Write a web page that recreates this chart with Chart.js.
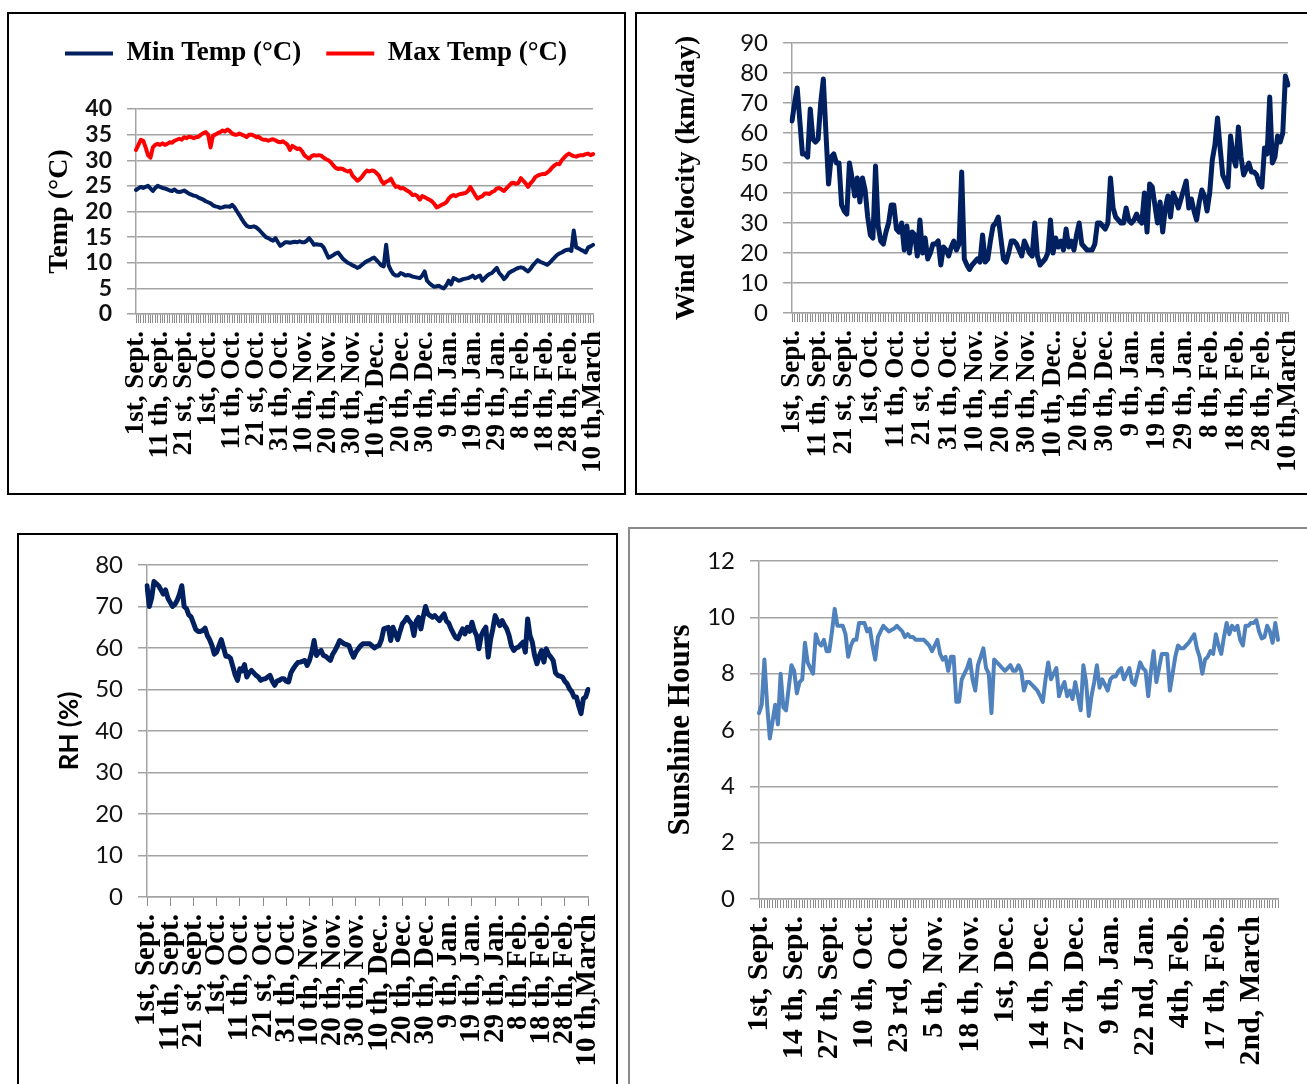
<!DOCTYPE html>
<html>
<head>
<meta charset="utf-8">
<script src="https://cdn.jsdelivr.net/npm/chart.js@4.4.1/dist/chart.umd.min.js"></script>
<style>
  body { margin: 0; background: #fff; width: 1307px; height: 1084px; overflow: hidden; position: relative; }
  .frame { position: absolute; box-sizing: border-box; }
  canvas { position: absolute; }
</style>
</head>
<body>
<div class="frame" style="left:7px;top:12px;width:619px;height:483px;border:2px solid #000"></div>
<div class="frame" style="left:635px;top:12px;width:690px;height:483px;border:2px solid #000"></div>
<div class="frame" style="left:17px;top:533px;width:601px;height:570px;border:2px solid #000"></div>
<div class="frame" style="left:628px;top:527px;width:700px;height:580px;border:2px solid #8a8a8a"></div>

<canvas id="tempChart" width="618" height="482" style="left:7px;top:12px"></canvas>
<canvas id="windChart" width="672" height="482" style="left:635px;top:12px"></canvas>
<canvas id="rhChart" width="601" height="551" style="left:17px;top:533px"></canvas>
<canvas id="sunChart" width="679" height="557" style="left:628px;top:527px"></canvas>

<script>
// one value per day, 1 Sept -> 10 March (sunshine runs to 12 March)
var tickNames = ["1st, Sept.", "11 th, Sept.", "21 st, Sept.", "1st, Oct.", "11 th, Oct.",
    "21 st, Oct.", "31 th, Oct.", "10 th, Nov.", "20 th, Nov.", "30 th, Nov.", "10 th, Dec..",
    "20 th, Dec.", "30 th, Dec.", "9 th, Jan.", "19 th, Jan.", "29 th, Jan.", "8 th, Feb.",
    "18 th, Feb.", "28 th, Feb.", "10 th,March"];
var sunTickNames = ["1st, Sept.", "14 th, Sept.", "27 th, Sept.", "10 th, Oct.", "23 rd, Oct.",
    "5 th, Nov.", "18 th, Nov.", "1st, Dec.", "14 th, Dec.", "27 th, Dec.", "9 th, Jan.",
    "22 nd, Jan.", "4th, Feb.", "17 th, Feb.", "2nd, March"];

var minTemp = [
    24.2, 24.5, 24.8, 24.6, 24.8, 25.0, 24.5, 24.0, 24.6, 25.0,
    24.8, 24.6, 24.5, 24.3, 24.1, 24.0, 24.3, 23.9, 23.8, 23.9,
    24.1, 23.8, 23.5, 23.3, 23.1, 23.0, 22.7, 22.5, 22.3, 22.0,
    21.8, 21.6, 21.2, 21.0, 20.9, 20.7, 20.8, 21.0, 21.0, 20.9,
    21.3, 20.8, 20.0, 19.3, 18.5, 17.8, 17.2, 17.0, 17.0, 17.1,
    16.9, 16.5, 16.0, 15.5, 15.0, 14.8, 14.5, 14.3, 14.8, 14.0,
    13.3, 13.6, 14.0, 14.0, 13.9, 14.0, 14.1, 14.0, 14.2, 14.0,
    14.0, 14.3, 14.8, 14.2, 13.5, 13.6, 13.5, 13.5, 13.0, 12.0,
    11.0, 11.2, 11.5, 11.8, 12.0, 11.4, 10.8, 10.4, 10.0, 9.8,
    9.5, 9.3, 9.0, 9.2, 9.6, 10.0, 10.3, 10.5, 10.8, 11.0,
    10.5, 10.0, 9.5, 9.3, 13.5, 9.5, 8.5, 7.8, 7.5, 7.5,
    8.0, 7.8, 7.5, 7.6, 7.5, 7.3, 7.2, 7.1, 7.0, 7.5,
    8.3, 6.5, 6.0, 5.6, 5.3, 5.4, 5.5, 5.2, 5.0, 5.6,
    6.5, 5.8, 7.0, 6.8, 6.5, 6.6, 6.8, 6.9, 7.0, 7.2,
    7.5, 7.0, 7.3, 7.5, 6.5, 7.0, 7.5, 7.8, 8.0, 8.5,
    9.0, 8.0, 7.5, 6.8, 7.3, 8.0, 8.3, 8.5, 8.8, 9.0,
    9.1, 9.0, 8.6, 8.3, 8.8, 9.5, 10.0, 10.5, 10.2, 10.0,
    9.8, 9.6, 10.0, 10.5, 11.0, 11.5, 11.8, 12.0, 12.3, 12.5,
    12.6, 12.3, 16.3, 13.0, 12.8, 12.5, 12.3, 12.0, 13.0, 13.2,
    13.5];

var maxTemp = [
    32.0, 33.0, 34.0, 33.8, 32.5, 31.0, 30.5, 32.5, 33.0, 33.2,
    33.0, 33.3, 33.0, 33.2, 33.5, 33.4, 33.8, 34.0, 34.2, 34.0,
    34.5, 34.3, 34.6, 34.5, 34.3, 34.5, 34.6, 35.0, 35.3, 35.5,
    35.0, 32.5, 34.8, 35.0, 35.3, 35.5, 35.8, 35.6, 36.0, 35.7,
    35.2, 35.0, 35.0, 35.2, 35.0, 34.8, 34.5, 35.0, 35.0, 34.8,
    34.5, 34.6, 34.2, 34.0, 34.0, 33.8, 34.0, 34.1, 33.9, 33.6,
    33.5, 33.7, 33.4, 33.0, 32.0, 32.8, 32.5, 32.2, 32.3, 31.8,
    31.0, 30.6, 30.3, 30.8, 31.0, 30.9, 31.0, 30.9, 30.5, 30.2,
    30.0, 29.6, 29.0, 28.5, 28.3, 28.4, 28.3, 28.0, 27.8, 28.0,
    27.0, 26.5, 26.0, 26.3, 26.8, 27.5, 28.0, 27.8, 28.0, 27.9,
    27.5, 27.0, 26.0, 25.4, 25.8, 26.0, 26.4, 25.5, 24.8, 24.9,
    24.5, 24.6, 24.3, 24.0, 23.7, 23.2, 23.3, 23.0, 22.3, 23.0,
    22.8, 22.5, 22.3, 22.0, 21.5, 20.8, 21.0, 21.3, 21.5, 21.8,
    22.5, 23.0, 23.2, 23.0, 23.3, 23.4, 23.5, 23.6, 24.0, 24.8,
    24.0, 23.2, 22.5, 22.8, 23.0, 23.5, 23.5, 23.4, 23.8, 24.0,
    24.5, 24.6, 24.3, 24.0, 24.5, 25.0, 25.5, 25.6, 25.4, 25.6,
    26.5, 26.0, 25.5, 24.8, 25.5, 26.0, 26.7, 27.0, 27.2, 27.3,
    27.3, 27.6, 28.0, 28.6, 29.0, 29.3, 29.2, 30.0, 30.5, 31.0,
    31.3, 31.0, 30.8, 30.7, 30.9, 31.0, 31.0, 31.2, 31.3, 31.0,
    31.2];

var windVel = [
    64, 70, 75, 64, 53, 53, 52, 68, 58, 57,
    58, 70, 78, 60, 43, 52, 53, 50, 50, 36,
    34, 33, 50, 45, 39, 45, 37, 45, 41, 32,
    26, 25, 49, 29, 24, 23, 27, 30, 36, 36,
    28, 27, 30, 21, 29, 20, 27, 26, 19, 31,
    20, 25, 18, 20, 23, 23, 24, 16, 22, 21,
    19, 22, 24, 21, 23, 47, 18, 16, 14.5, 16,
    17, 18, 17, 26, 17, 18, 24, 29, 30, 32,
    25, 18, 17, 20, 24, 24, 23, 21, 19, 24,
    22, 20, 19, 30, 19, 16, 17, 18, 20, 31,
    20, 25, 22, 24, 21, 28, 22, 24, 21, 26,
    30, 23, 22, 21, 21, 21, 23, 30, 30, 29,
    28, 30, 45, 35, 32, 31, 30, 30, 35, 31,
    30, 31, 33, 31, 30, 40, 27, 43, 42, 36,
    30, 37, 27, 35, 39, 32, 40, 38, 35, 38,
    41, 44, 35, 38, 34, 31, 37, 41, 39, 34,
    40, 51, 56, 65, 55, 46, 44, 42, 59, 52,
    49, 62, 52, 46, 48, 50, 47, 47, 46, 43,
    42, 55, 53, 72, 50, 52, 59, 57, 60, 79,
    76];

var relHum = [
    75, 70, 72, 76, 75.5, 75, 74, 73, 74, 72,
    71, 70, 70.5, 71.5, 73, 75, 70, 69.5, 68, 67.5,
    66, 64.5, 64, 64, 64.2, 64.8, 63, 62, 60.6, 58.5,
    59, 60.5, 62, 60, 58, 58, 57.5, 55.5, 53.5, 52.2,
    55, 54.5, 56, 53, 54, 54.6, 54, 53.4, 53, 52.2,
    52.5, 52.6, 53, 53.4, 52, 51, 52, 52.2, 52.6, 52.6,
    52, 51.8, 54, 55, 55.8, 56.5, 56.6, 56.8, 57, 55.8,
    57, 59, 61.8, 58.2, 59, 59.4, 58.2, 58, 57.5, 57,
    58.5, 59.4, 60.5, 61.8, 61.4, 61, 60.8, 60.6, 59, 57.8,
    59, 59.8, 60.5, 61, 61, 61, 61, 60.5, 60, 60.4,
    60.6, 62, 64.6, 64.8, 65, 61.8, 65, 63.5, 62, 64,
    65.8, 66.5, 67.4, 66.5, 65.8, 63, 66.5, 67.4, 64.6, 67.5,
    70, 68.2, 67.8, 67.4, 67.8, 67.2, 66.6, 67.5, 68.2, 66.5,
    66, 64.6, 63.5, 62.5, 62.2, 63.5, 64.6, 63.4, 65, 64,
    66.2, 64.2, 63, 59.8, 63, 64.2, 65, 57.8, 62, 64.6,
    67.8, 66.5, 65.4, 66.6, 65.5, 64.6, 63, 60.5, 59.4, 60,
    60.2, 60.8, 61.4, 59, 67, 63, 61.4, 58.2, 56.2, 58,
    59.4, 56.6, 59.8, 58.5, 57.8, 57, 54, 53.4, 53.2, 53,
    52, 51.4, 50.2, 49.5, 48.2, 48.2, 46, 44.2, 47.8, 48.2,
    50];

var sunHours = [
    6.6, 6.9, 8.5, 6.9, 5.7, 6.3, 6.9, 6.2, 8.0, 6.8,
    6.7, 7.5, 8.3, 8.1, 7.3, 7.7, 7.8, 9.1, 8.4, 8.2,
    8.0, 9.4, 9.1, 9.0, 9.2, 8.8, 8.8, 9.5, 10.3, 9.7,
    9.7, 9.7, 9.4, 8.6, 9.0, 9.2, 9.2, 9.8, 9.8, 9.8,
    9.5, 9.6, 9.0, 8.5, 9.3, 9.5, 9.7, 9.6, 9.5, 9.55,
    9.6, 9.7, 9.6, 9.5, 9.3, 9.4, 9.3, 9.3, 9.2, 9.2,
    9.2, 9.2, 9.1, 9.0, 8.8, 9.0, 9.2, 8.7, 8.5, 8.6,
    8.1, 8.6, 8.6, 7.0, 7.0, 7.8, 8.0, 8.2, 8.5, 7.8,
    7.4, 8.3, 8.6, 8.9, 8.2, 8.0, 6.6, 8.5, 8.4, 8.3,
    8.2, 8.1, 8.2, 8.3, 8.1, 8.1, 8.3, 8.1, 7.4, 7.7,
    7.7, 7.6, 7.5, 7.4, 7.2, 7.0, 7.8, 8.4, 7.8, 8.0,
    8.2, 7.2, 7.5, 7.7, 7.2, 7.4, 7.1, 7.7, 7.2, 6.7,
    8.3, 7.7, 6.5, 7.2, 7.7, 8.3, 7.5, 7.8, 7.6, 7.4,
    7.8, 7.9, 7.9, 8.1, 8.2, 7.8, 8.0, 8.2, 7.7, 7.6,
    8.0, 8.4, 8.2, 8.1, 7.2, 8.1, 8.8, 7.7, 8.2, 8.7,
    8.7, 8.7, 7.4, 8.0, 8.6, 9.0, 8.9, 8.9, 9.0, 9.1,
    9.25, 9.4, 8.9, 8.6, 8.0, 8.5, 8.6, 8.8, 8.7, 9.4,
    9.0, 8.7, 9.3, 9.8, 9.4, 9.7, 9.55, 9.7, 9.2, 9.0,
    9.7, 9.7, 9.8, 9.8, 9.9, 9.5, 9.25, 9.3, 9.7, 9.5,
    9.1, 9.8, 9.2];

var gridGray = "#a3a3a3";
var navy = "#002060";

// a label every `step` days, blank ticks in between
function makeLabels(names, step, count) {
    var labels = [];
    for (var i = 0; i < count; i++) {
        labels.push(i % step == 0 ? names[i / step] : "");
    }
    return labels;
}

function drawPanel(id, p) {
    var canvas = document.getElementById(id);
    var W = canvas.width, H = canvas.height;
    // stretch the legend box so it fills the gap down to the plot
    var legendGap = {
        id: 'legendGap',
        beforeInit: function (chart) {
            if (!chart.legend || !p.legendHeight) return;
            var fit = chart.legend.fit;
            chart.legend.fit = function () {
                fit.call(chart.legend);
                this.height = p.legendHeight;
            };
        }
    };
    new Chart(canvas, {
        type: 'line',
        data: { labels: p.labels, datasets: p.datasets },
        plugins: [legendGap],
        options: {
            responsive: false,
            animation: false,
            devicePixelRatio: 1,
            layout: { padding: { left: p.padLeft, top: p.padTop || 0, right: W - p.area.right, bottom: 0 } },
            elements: {
                point: { radius: 0 },
                line: { tension: 0, borderCapStyle: 'round', borderJoinStyle: 'round' }
            },
            plugins: {
                legend: p.legend || { display: false },
                tooltip: { enabled: false }
            },
            scales: {
                x: {
                    grid: { drawOnChartArea: false, color: p.xTickColor, tickLength: 9, lineWidth: 1 },
                    border: { color: gridGray, width: 1.5 },
                    ticks: {
                        autoSkip: false, minRotation: 90, maxRotation: 90, padding: 8, color: '#000',
                        font: { family: 'Liberation Serif', weight: 'bold', size: p.xFont }
                    },
                    afterFit: function (s) {
                        s.height = H - p.area.bottom;
                        s.paddingLeft = 0;
                        s.paddingRight = 0;
                    }
                },
                y: {
                    min: p.yMin, max: p.yMax,
                    ticks: { stepSize: p.yStep, autoSkip: false, padding: 15, color: '#111', font: p.yTickFont },
                    grid: { color: gridGray, lineWidth: 1.5, tickLength: 9 },
                    border: { color: gridGray, width: 1.5 },
                    title: { display: true, text: p.yTitle, color: '#000', font: p.yTitleFont, padding: { top: 4, bottom: 4 } },
                    afterFit: function (s) {
                        s.width = p.area.left - p.padLeft;
                        s.paddingTop = p.area.top;
                        s.paddingBottom = 0;
                    }
                }
            }
        }
    });
}

var serifTitle = { family: 'Liberation Serif', weight: 'bold', size: 28 };
var sansTick = { family: 'Lato', size: 24 };

drawPanel('tempChart', {
    labels: makeLabels(tickNames, 10, minTemp.length),
    datasets: [
        { label: 'Min Temp (\u00B0C)', data: minTemp, borderColor: navy, backgroundColor: navy, borderWidth: 4 },
        { label: 'Max Temp (\u00B0C)', data: maxTemp, borderColor: '#ff0000', backgroundColor: '#ff0000', borderWidth: 4 }
    ],
    legend: {
        display: true, position: 'top',
        labels: {
            usePointStyle: true, pointStyle: 'line', pointStyleWidth: 48, padding: 25, color: '#000',
            font: { family: 'Liberation Serif', weight: 'bold', size: 27 }
        }
    },
    padTop: 3, legendHeight: 94, padLeft: 32,
    area: { left: 129, top: 97, right: 586, bottom: 302 },
    yMin: 0, yMax: 40, yStep: 5,
    yTitle: 'Temp (\u00B0C)', yTitleFont: serifTitle,
    yTickFont: { family: 'Lato', weight: 'bold', size: 23 },
    xFont: 27, xTickColor: '#8c8c8c'
});

drawPanel('windChart', {
    labels: makeLabels(tickNames, 10, windVel.length),
    datasets: [{ label: 'Wind Velocity', data: windVel, borderColor: navy, borderWidth: 5 }],
    padLeft: 31,
    area: { left: 157, top: 31, right: 653, bottom: 301 },
    yMin: 0, yMax: 90, yStep: 10,
    yTitle: 'Wind Velocity (km/day)', yTitleFont: serifTitle,
    yTickFont: sansTick,
    xFont: 27, xTickColor: '#8c8c8c'
});

drawPanel('rhChart', {
    labels: makeLabels(tickNames, 10, relHum.length),
    datasets: [{ label: 'RH', data: relHum, borderColor: navy, borderWidth: 5 }],
    padLeft: 33,
    area: { left: 130, top: 32, right: 571, bottom: 364 },
    yMin: 0, yMax: 80, yStep: 10,
    yTitle: 'RH (%)', yTitleFont: { family: 'Lato', weight: 'bold', size: 26 },
    yTickFont: sansTick,
    xFont: 29,
    xTickColor: function (c) { return c.index % 10 == 0 ? '#8c8c8c' : 'rgba(0,0,0,0)'; }
});

drawPanel('sunChart', {
    labels: makeLabels(sunTickNames, 13, sunHours.length),
    datasets: [{ label: 'Sunshine Hours', data: sunHours, borderColor: '#4f81bd', borderWidth: 4 }],
    padLeft: 30,
    area: { left: 131, top: 34, right: 650, bottom: 372 },
    yMin: 0, yMax: 12, yStep: 2,
    yTitle: 'Sunshine Hours', yTitleFont: { family: 'Liberation Serif', weight: 'bold', size: 31 },
    yTickFont: sansTick,
    xFont: 30, xTickColor: '#8c8c8c'
});
</script>
</body>
</html>
